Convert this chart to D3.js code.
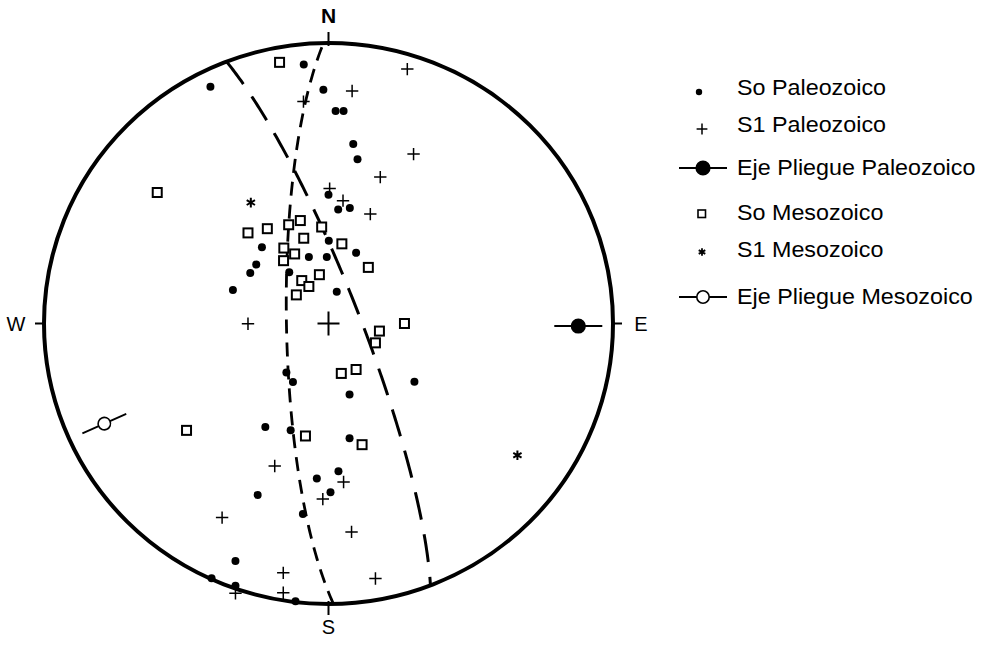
<!DOCTYPE html>
<html>
<head>
<meta charset="utf-8">
<script src="https://cdn.jsdelivr.net/npm/d3@7"></script>
<style>
  body { margin: 0; background: #fff; }
  text { font-family: "Liberation Sans", Arial, Helvetica, sans-serif; fill: #000; }
</style>
</head>
<body>
<div id="chart"></div>
<script>
// Net coordinates: x = east, y = north, in units of the net radius (equal-area, lower hemisphere)
const soPaleozoico = [
    [-0.087, 0.923], [-0.415, 0.844], [-0.018, 0.833], [0.025, 0.758], [0.053, 0.758],
    [0.087, 0.640], [0.102, 0.586], [0.000, 0.459], [0.034, 0.406], [0.075, 0.412],
    [-0.234, 0.272], [-0.254, 0.210], [-0.275, 0.180], [-0.336, 0.119], [-0.069, 0.237],
    [-0.006, 0.237], [0.001, 0.295], [0.097, 0.252], [-0.138, 0.183], [0.029, 0.113],
    [-0.148, -0.175], [-0.125, -0.209], [0.074, -0.253], [0.302, -0.208], [-0.222, -0.369],
    [-0.133, -0.381], [0.074, -0.409], [-0.041, -0.553], [0.035, -0.527], [0.007, -0.602],
    [-0.249, -0.611], [-0.090, -0.679], [-0.327, -0.847], [-0.411, -0.908], [-0.327, -0.935],
    [-0.116, -0.990]
];
const s1Paleozoico = [
    [0.277, 0.907], [0.083, 0.829], [-0.088, 0.791], [0.299, 0.604], [0.182, 0.522],
    [0.004, 0.481], [0.051, 0.438], [0.147, 0.390], [-0.283, -0.001], [-0.189, -0.508],
    [0.053, -0.565], [-0.020, -0.626], [-0.374, -0.692], [0.081, -0.743], [-0.159, -0.889],
    [-0.159, -0.960], [0.165, -0.909], [-0.327, -0.962]
];
const soMesozoico = [
    [-0.172, 0.931], [-0.602, 0.467], [-0.283, 0.323], [-0.215, 0.338], [-0.099, 0.367],
    [-0.024, 0.344], [-0.140, 0.352], [-0.087, 0.304], [0.047, 0.284], [0.140, 0.200],
    [-0.119, 0.248], [-0.157, 0.269], [-0.158, 0.224], [-0.094, 0.153], [-0.069, 0.132],
    [-0.032, 0.174], [-0.113, 0.102], [0.267, 0.000], [0.165, -0.069], [0.179, -0.027],
    [0.045, -0.178], [0.097, -0.164], [-0.081, -0.401], [0.118, -0.432], [-0.499, -0.381]
];
const s1Mesozoico = [[-0.273, 0.431], [0.664, -0.470]];
// fold axes: [x, y, orientation of the marker bar in degrees]
const ejePaleozoico = [[0.878, -0.009, 0]];
const ejeMesozoico = [[-0.788, -0.357, -24]];
// great circles: [dip direction, dip]
const planoCorto = [269, 78];
const planoLargo = [69, 81];
const cardinales = [['N', 0, 1], ['E', 1, 0], ['S', 0, -1], ['W', -1, 0]];
const leyenda = ['So Paleozoico', 'S1 Paleozoico', 'Eje Pliegue Paleozoico',
    'So Mesozoico', 'S1 Mesozoico', 'Eje Pliegue Mesozoico'];

const width = 996, height = 646;
const rad = Math.PI / 180;

const svg = d3.select('#chart').append('svg')
    .attr('width', width)
    .attr('height', height);

// Net scales (slightly elliptical, as in the scan)
const x = d3.scaleLinear().domain([-1, 1]).range([44, 613]);
const y = d3.scaleLinear().domain([-1, 1]).range([604, 43]);

// equal-area projection of a line (trend, plunge)
function proyecta(trend, plunge) {
    const r = Math.sqrt(1 - Math.sin(plunge * rad));
    return [r * Math.sin(trend * rad), r * Math.cos(trend * rad)];
}

function circuloMayor([dd, dip]) {
    const s = (dd - 90) * rad;
    return d3.range(0, 180.5, 1).map(t => {
        const tr = t * rad;
        const vx = Math.cos(tr) * Math.sin(s) + Math.sin(tr) * Math.cos(dip * rad) * Math.sin(dd * rad);
        const vy = Math.cos(tr) * Math.cos(s) + Math.sin(tr) * Math.cos(dip * rad) * Math.cos(dd * rad);
        const vz = Math.sin(tr) * Math.sin(dip * rad);
        return proyecta(Math.atan2(vx, vy) / rad, Math.asin(Math.min(1, vz)) / rad);
    });
}

const linea = d3.line().x(d => x(d[0])).y(d => y(d[1]));

// primitive circle
svg.append('ellipse')
    .attr('cx', x(0)).attr('cy', y(0))
    .attr('rx', x(1) - x(0)).attr('ry', y(0) - y(1))
    .attr('fill', 'none')
    .attr('stroke', '#000')
    .attr('stroke-width', 4);

// cardinal ticks and labels
const card = svg.append('g');
card.selectAll('line')
    .data(cardinales)
    .join('line')
    .attr('x1', d => x(d[1]) - d[1] * 2)
    .attr('y1', d => y(d[2]) + d[2] * 3)
    .attr('x2', d => x(d[1]) + d[1] * 9)
    .attr('y2', d => y(d[2]) - d[2] * 11)
    .attr('stroke', '#000')
    .attr('stroke-width', 2);

card.selectAll('text')
    .data(cardinales)
    .join('text')
    .attr('x', d => x(d[1]) + d[1] * 28)
    .attr('y', d => d[0] === 'N' ? y(1) - 20 : y(d[2]) - d[2] * 23 + 7)
    .attr('text-anchor', 'middle')
    .style('font-size', d => d[0] === 'N' ? '21px' : '20px')
    .style('font-weight', d => d[0] === 'N' ? 'bold' : 'normal')
    .text(d => d[0]);

// centre cross
svg.append('path')
    .attr('d', `M${x(0) - 11},${y(0)}H${x(0) + 11}M${x(0)},${y(0) - 12}V${y(0) + 12}`)
    .attr('stroke', '#000')
    .attr('stroke-width', 2);

// great circles
svg.append('path')
    .datum(circuloMayor(planoCorto))
    .attr('d', linea)
    .attr('fill', 'none')
    .attr('stroke', '#000')
    .attr('stroke-width', 2.8)
    .attr('stroke-dasharray', '14,9');

svg.append('path')
    .datum(circuloMayor(planoLargo))
    .attr('d', linea)
    .attr('fill', 'none')
    .attr('stroke', '#000')
    .attr('stroke-width', 3)
    .attr('stroke-dasharray', '28,15');

// So Paleozoico
svg.append('g').selectAll('circle')
    .data(soPaleozoico)
    .join('circle')
    .attr('cx', d => x(d[0]))
    .attr('cy', d => y(d[1]))
    .attr('r', 4)
    .attr('fill', '#000');

// S1 Paleozoico
const plus = d3.symbol().type(d3.symbolPlus).size(52);
svg.append('g').selectAll('path')
    .data(s1Paleozoico)
    .join('path')
    .attr('transform', d => `translate(${x(d[0])},${y(d[1])})`)
    .attr('d', plus)
    .attr('fill', 'none')
    .attr('stroke', '#000')
    .attr('stroke-width', 1.5);

// So Mesozoico
svg.append('g').selectAll('rect')
    .data(soMesozoico)
    .join('rect')
    .attr('x', d => x(d[0]) - 4.5)
    .attr('y', d => y(d[1]) - 4.5)
    .attr('width', 9)
    .attr('height', 9)
    .attr('fill', '#fff')
    .attr('stroke', '#000')
    .attr('stroke-width', 2);

// S1 Mesozoico
const aster = d3.symbol().type(d3.symbolAsterisk).size(64);
svg.append('g').selectAll('path')
    .data(s1Mesozoico)
    .join('path')
    .attr('transform', d => `translate(${x(d[0])},${y(d[1])})`)
    .attr('d', aster)
    .attr('fill', 'none')
    .attr('stroke', '#000')
    .attr('stroke-width', 2);

// fold axes
function ejeMarca(g, datos, relleno) {
    const m = g.selectAll('g')
        .data(datos)
        .join('g')
        .attr('transform', d => `translate(${x(d[0])},${y(d[1])}) rotate(${d[2]})`);
    m.append('line')
        .attr('x1', -24).attr('x2', 24)
        .attr('stroke', '#000')
        .attr('stroke-width', 1.8);
    m.append('circle')
        .attr('r', relleno ? 6.8 : 6.2)
        .attr('fill', relleno ? '#000' : '#fff')
        .attr('stroke', '#000')
        .attr('stroke-width', 1.6);
}
ejeMarca(svg.append('g'), ejePaleozoico, true);
ejeMarca(svg.append('g'), ejeMesozoico, false);

// legend
const filasY = [87, 124, 167, 212, 249, 296];
const lx = 702;
const leg = svg.append('g');
leg.selectAll('text')
    .data(leyenda)
    .join('text')
    .attr('transform', (d, i) => `translate(737,${filasY[i] + 7.5}) scale(1.06,1)`)
    .style('font-size', '22px')
    .text(d => d);

leg.append('circle').attr('cx', lx - 3).attr('cy', filasY[0] + 5).attr('r', 3.2).attr('fill', '#000');
leg.append('path')
    .attr('transform', `translate(${lx},${filasY[1] + 5})`)
    .attr('d', d3.symbol().type(d3.symbolPlus).size(40))
    .attr('fill', 'none').attr('stroke', '#000').attr('stroke-width', 1.5);
ejeMarca(leg.append('g'), [[x.invert(lx + 1), y.invert(filasY[2] + 1), 0]], true);
leg.append('rect')
    .attr('x', lx - 4).attr('y', filasY[3] - 2)
    .attr('width', 7.5).attr('height', 7.5)
    .attr('fill', '#fff').attr('stroke', '#000').attr('stroke-width', 1.6);
leg.append('path')
    .attr('transform', `translate(${lx},${filasY[4] + 3})`)
    .attr('d', d3.symbol().type(d3.symbolAsterisk).size(40))
    .attr('fill', 'none').attr('stroke', '#000').attr('stroke-width', 1.8);
ejeMarca(leg.append('g'), [[x.invert(lx + 1), y.invert(filasY[5] + 1), 0]], false);
</script>
</body>
</html>
